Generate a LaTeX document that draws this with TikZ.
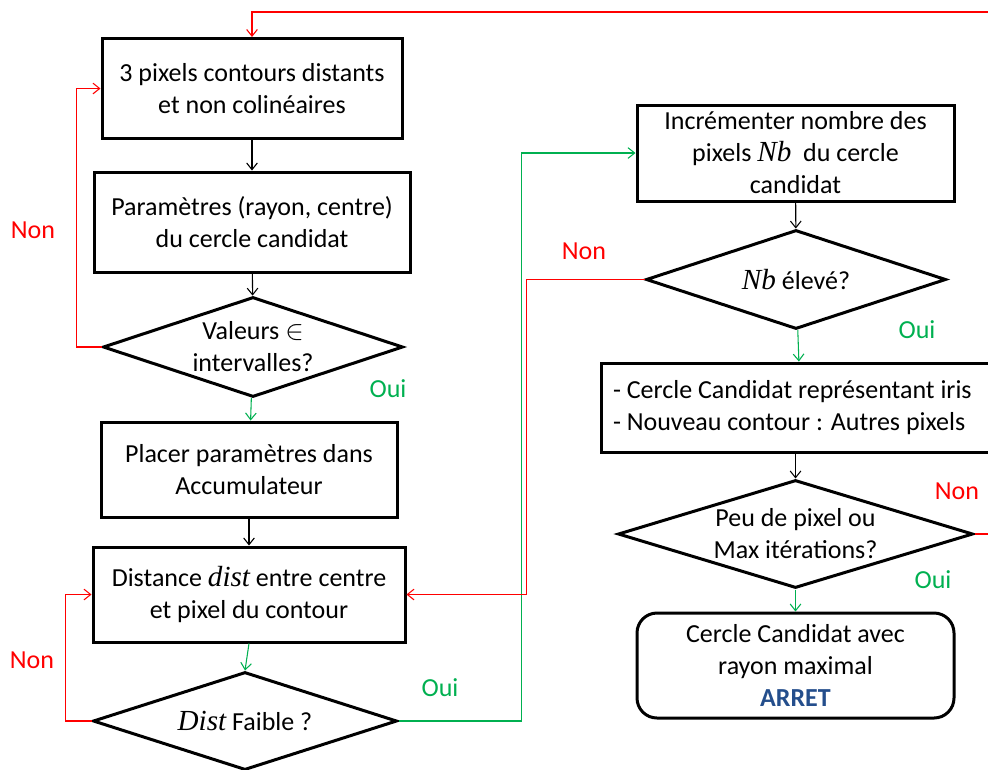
\documentclass[tikz,border=0pt]{standalone}
\usepackage{fontspec}
\setmainfont{Carlito}
\newfontfamily\mathitfont{Liberation Serif}[Scale=1.12]
\usetikzlibrary{arrows.meta,shapes.geometric,calc}
\definecolor{rouge}{RGB}{255,0,0}
\definecolor{vert}{RGB}{0,176,80}
\definecolor{bleuarret}{RGB}{36,78,140}
\newcommand{\mvar}[1]{{\mathitfont\itshape #1}}
\newdimen\px \px=0.75pt

\begin{document}
\begin{tikzpicture}[x=0.75pt,y=-0.75pt,
  every node/.style={font=\fontsize{19.5}{24}\selectfont},
  bloc/.style={draw,line width=2.25pt,rectangle,inner sep=0pt,align=center},
  test/.style={draw,line width=2.25pt,diamond,inner sep=0pt},
  fin/.style={bloc,rounded corners=15pt},
  lien/.style={line width=0.8pt,-{Straight Barb[length=5pt,width=8pt]}},
  oui/.style={lien,draw=vert},
  non/.style={lien,draw=rouge}]
\useasboundingbox (0,0) rectangle (988,769);
\clip (0,0) rectangle (988,769);
% colonne de gauche
\node[bloc,minimum width=300\px,minimum height=100\px] (b1) at (252,88.5)
  {3 pixels contours distants\\et non colinéaires};
\node[bloc,minimum width=316\px,minimum height=100\px] (b2) at (252,222)
  {Paramètres (rayon, centre)\\du cercle candidat};
\node[test,minimum width=300\px,minimum height=100\px,
  label={[align=center]center:Valeurs $\in$\\intervalles?}] (d1) at (253,347) {};
\node[bloc,minimum width=296\px,minimum height=95\px] (b3) at (249,469.5)
  {Placer paramètres dans\\Accumulateur};
\node[bloc,minimum width=312\px,minimum height=95\px] (b4) at (249,594.5)
  {Distance \mvar{dist} entre centre\\et pixel du contour};
\node[test,minimum width=304\px,minimum height=98\px,
  label={center:\mvar{Dist} Faible ?}] (d2) at (245,721) {};
% colonne de droite
\node[bloc,minimum width=317\px,minimum height=96\px] (b5) at (795.5,153)
  {Incrémenter nombre des\\pixels \mvar{Nb}\ \ du cercle\\candidat};
\node[test,minimum width=300\px,minimum height=99\px,
  label={center:\mvar{Nb} élevé?}] (d3) at (796,279.5) {};
\node[bloc,align=flush left,text width=375\px,inner xsep=12\px,minimum height=89\px] (b6) at (800.5,407.5)
  {- Cercle Candidat représentant iris\\- Nouveau contour : Autres pixels};
\node[test,minimum width=355\px,minimum height=108\px,
  label={[align=center]center:Peu de pixel ou\\Max itérations?}] (d4) at (795.5,534) {};
\node[fin,minimum width=317\px,minimum height=105\px] (b7) at (795.5,665.5)
  {Cercle Candidat avec\\rayon maximal\\{\bfseries\color{bleuarret}ARRET}};
% etiquettes
\node[text=rouge] (n1) at (33,230) {Non};
\node[text=vert] (o1) at (388,389) {Oui};
\node[text=rouge] (n2) at (32,660) {Non};
\node[text=vert] (o2) at (440,688) {Oui};
\node[text=rouge] (n3) at (584,251) {Non};
\node[text=vert] (o3) at (917,330) {Oui};
\node[text=rouge] (n4) at (957,491) {Non};
\node[text=vert] (o4) at (933,580) {Oui};
% liens
\draw[lien] (b1) -- (b2);
\draw[lien] (b2) -- (d1);
\draw[oui] (d1) -- (b3);
\draw[lien] (b3) -- (b4);
\draw[oui] (b4.south) -- (d2.north);
\draw[lien] (b5) -- (d3);
\draw[oui] (d3) -- (b6);
\draw[lien] (b6.south-|d4.north) -- (d4.north);
\draw[oui] (d4) -- (b7);
\draw[non] (d1.west) -- ++(-25,0) |- (b1.west);
\draw[non] (d2.west) -- ++(-26,0) |- (b4.west);
\draw[oui] (d2.east) -- ++(123,0) |- (b5.west);
\draw[non] (d3.west) -- ++(-118,0) |- (b4.east);
\coordinate (haut) at (1003,12);
\draw[non] (d4.east) -| (haut) -| (b1.north);
\end{tikzpicture}
\end{document}
